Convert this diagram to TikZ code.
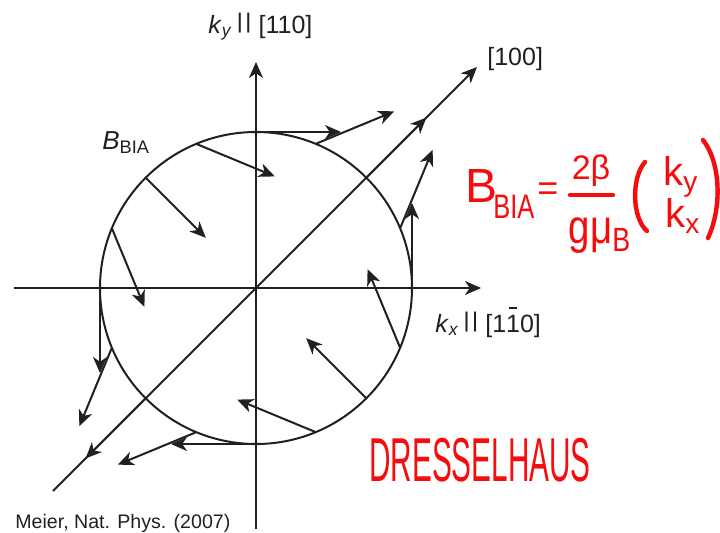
\documentclass[tikz,border=0pt]{standalone}
\usepackage{fontspec}
\setmainfont{Liberation Sans}
\usepackage{graphicx}
\usetikzlibrary{arrows.meta,calc}
\definecolor{ink}{RGB}{35,31,32}
\definecolor{hand}{RGB}{245,12,12}
\newcommand\pbar{\raisebox{0.17em}{\scalebox{1}[0.85]{|\kern0.08em|}}}
\newcommand\obar[1]{\makebox[0pt][l]{\hspace{0.12em}\raisebox{0.92em}{\rule{0.3em}{0.07em}}}#1}
\begin{document}
\begin{tikzpicture}[x=0.5pt,y=0.5pt,
  vec/.style={draw=ink,line width=1pt,-{Stealth[length=8pt,width=7pt,inset=2.4pt]}},
  lbl/.style={text=ink,inner sep=0pt,font=\fontsize{12.5}{15}\selectfont},
  hw/.style={text=hand,inner sep=0pt},
  hwline/.style={draw=hand,line width=2.2pt,line cap=round}]
\useasboundingbox (-256,-244) rectangle (464,288);
\coordinate (O) at (0,0);
\draw[ink,line width=1pt] (O) circle[radius=156];
% axes
\coordinate (ybot) at (0,-241);
\coordinate (ytop) at (0,226);
\coordinate (xl) at (-242,0);
\coordinate (xr) at (225,0);
\coordinate (dl) at (-203,-203);
\coordinate (dr) at (221,221);
\draw[vec] (ybot) -- (ytop);
\draw[vec] (xl) -- (xr);
\draw[vec] (dl) -- (dr);
% field vectors
\foreach \i in {0,...,15}{
  \pgfmathsetmacro\a{22.5*\i}
  \coordinate (s\i) at (\a:156);
  \path (s\i) ++({85*sin(\a)},{85*cos(\a)}) coordinate (e\i);
  \draw[vec] (s\i) -- (e\i);
}
% labels
\node[lbl,anchor=base west] (ky) at (-48,255) {\textit{k}\textsubscript{\textit{y}}\,\pbar\ [110]};
\node[lbl,anchor=base west] (d100) at (231,223) {[100]};
\node[lbl,anchor=base west] (kx) at (179,-44) {\textit{k}\textsubscript{\textit{x}}\,\pbar\ [1\obar{1}0]};
\node[lbl,anchor=base west,font=\fontsize{13}{15}\selectfont] (bb) at (-154,139) {\textit{B}\textsubscript{BIA}};
\node[text=ink,inner sep=0pt,anchor=base west,font=\fontsize{9.8}{12}\selectfont] (ref) at (-241,-240) {Meier, Nat. Phys. (2007)};
% handwritten formula
\node[hw,anchor=base west,font=\fontsize{24}{24}\selectfont] (hB) at (209,86) {B};
\node[hw,anchor=base west] (hBIA) at (237,70) {\scalebox{0.75}[1]{\fontsize{17}{17}\selectfont BIA}};
\node[hw,font=\fontsize{18}{18}\selectfont] (heq) at (292,96) {=};
\node[hw,font=\fontsize{17}{17}\selectfont] (hnum) at (335,117) {2β};
\coordinate (fb1) at (314,93);
\coordinate (fb2) at (357,93);
\draw[hwline] (fb1) -- (fb2);
\node[hw] (hden) at (344,52) {\scalebox{0.8}[1]{\fontsize{24}{24}\selectfont gμ\textsubscript{B}}};
% vector with hand-drawn parentheses
\node[hw,font=\fontsize{20}{20}\selectfont] (hky) at (425,111) {k\textsubscript{y}};
\node[hw,font=\fontsize{20}{20}\selectfont] (hkx) at (427,72) {k\textsubscript{x}};
\coordinate (lp1) at (389,126);
\coordinate (lp2) at (391,57);
\coordinate (rp1) at (447,148);
\coordinate (rp2) at (452,50);
\draw[hwline] (lp1) .. controls (375,110) and (376,70) .. (lp2);
\draw[hwline] (rp1) .. controls (465,125) and (466,80) .. (rp2);
\node[hw] (hd) at (224,-172) {\scalebox{0.48}[1]{\fontsize{31}{31}\selectfont DRESSELHAUS}};
\end{tikzpicture}
\end{document}
